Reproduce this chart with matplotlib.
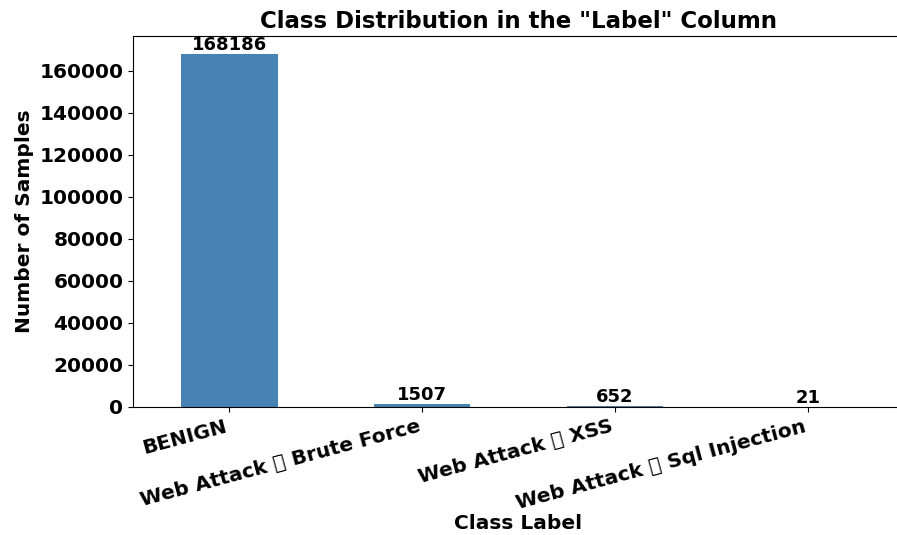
import matplotlib
matplotlib.use("Agg")
import matplotlib.pyplot as plt
import warnings
warnings.filterwarnings("ignore")

categories = ["BENIGN", "Web Attack \x96 Brute Force", "Web Attack \x96 XSS", "Web Attack \x96 Sql Injection"]
counts = [168186, 1507, 652, 21]

fig = plt.figure(figsize=(8.97, 5.35), dpi=100)
ax = fig.add_axes([0.1483, 0.2393, 0.8595, 0.6934])
x = list(range(len(categories)))
bars = ax.bar(x, counts, width=0.5, color="steelblue")
ax.set_xlim(-0.5, len(categories) - 0.5)
ax.set_ylim(0, max(counts) * 1.05)
for b, v in zip(bars, counts):
    ax.text(b.get_x() + b.get_width() / 2, b.get_height(), str(v),
            ha="center", va="bottom", fontsize=13, fontweight="bold")
ax.set_xticks(x)
ax.set_xticklabels(categories, rotation=15, ha="right", fontsize=14.5, fontweight="bold")
ax.tick_params(axis="y", labelsize=14.5)
plt.setp(ax.get_yticklabels(), fontweight="bold")
ax.spines["right"].set_visible(False)
ax.set_title('Class Distribution in the "Label" Column', fontsize=16.5, fontweight="bold")
ax.set_xlabel("Class Label", fontsize=14.5, fontweight="bold", labelpad=1.0)
ax.set_ylabel("Number of Samples", fontsize=14.5, fontweight="bold")
fig.savefig("out.png", dpi=100)
